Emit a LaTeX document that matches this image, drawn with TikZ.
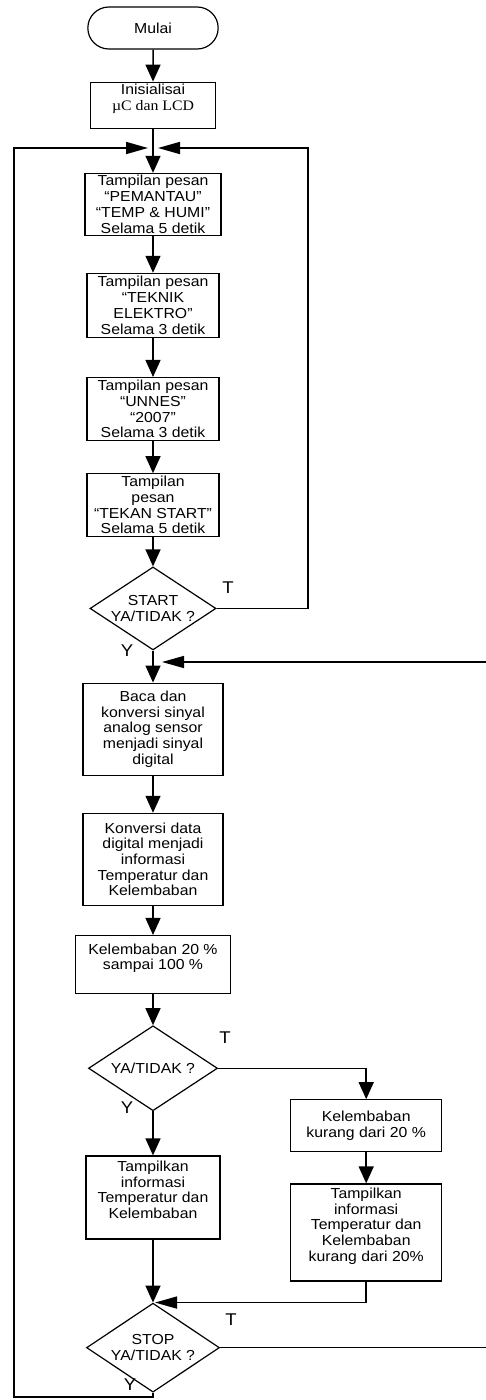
\documentclass[tikz,border=0pt]{standalone}
\usepackage{fontspec}
\setmainfont{Liberation Sans}[FakeStretch=1.09]
\newfontfamily\serif{Liberation Serif}[FakeStretch=1.09]
\usetikzlibrary{shapes.geometric, shapes.misc, arrows.meta, positioning}

\begin{document}
\begin{tikzpicture}[x=1pt, y=-1pt,
        font=\fontsize{14.5}{15.7}\selectfont,
        term/.style={draw, line width=1.2pt, rounded rectangle, minimum width=137pt, minimum height=42pt},
        box/.style={draw, line width=1.2pt, align=center, inner sep=2pt, minimum width=132pt, minimum height=63pt},
        decision/.style={draw, line width=1.2pt, diamond, shape aspect=1.6, inner sep=0pt, align=center},
        lbl/.style={inner sep=0pt, font=\fontsize{17}{18}\selectfont},
        flow/.style={-{Triangle[length=17pt,width=15pt]}, line width=1.5pt},
        loopflow/.style={-{Triangle[length=22pt,width=12pt]}, line width=1.5pt}]
    \useasboundingbox (0,0) rectangle (485,1400);
    \node[term] (mulai) at (153,28) {Mulai};
    \node[box, below=32pt of mulai, minimum width=125pt, minimum height=46pt] (init) {Inisialisai\\{\serif µC dan LCD}\\~};
    \node[box, below=44pt of init, minimum width=136pt, minimum height=61pt] (pemantau) {Tampilan pesan\\“PEMANTAU”\\“TEMP \& HUMI”\\Selama 5 detik};
    \node[box, below=37pt of pemantau, minimum height=64pt] (elektro) {Tampilan pesan\\“TEKNIK\\ELEKTRO”\\Selama 3 detik};
    \node[box, below=39pt of elektro] (unnes) {Tampilan pesan\\“UNNES”\\“2007”\\Selama 3 detik};
    \node[box, below=32pt of unnes] (tekan) {Tampilan\\pesan\\“TEKAN START”\\Selama 5 detik};
    \node[decision, below=29pt of tekan, minimum width=126pt, minimum height=83pt] (start) {START\\YA/TIDAK ?};
    \node[box, below=32pt of start, minimum width=140pt, minimum height=92pt] (baca) {Baca dan\\konversi sinyal\\analog sensor\\menjadi sinyal\\digital};
    \node[box, below=37pt of baca, minimum width=140pt, minimum height=92pt] (konversi) {Konversi data\\digital menjadi\\informasi\\Temperatur dan\\Kelembaban};
    \node[box, below=29pt of konversi, minimum width=155pt, minimum height=58pt] (rentang) {Kelembaban 20 \%\\sampai 100 \%\\~};
    \node[decision, below=31pt of rentang, minimum width=129pt, minimum height=85pt] (cek) {YA/TIDAK ?};
    \node[box, below=44pt of cek, minimum width=134pt, minimum height=83pt] (tampil) {Tampilkan\\informasi\\Temperatur dan\\Kelembaban\\~};
    \node[box, right=72pt of cek, yshift=-57.5pt, minimum width=151pt, minimum height=52pt] (kurang) {Kelembaban\\kurang dari 20 \%};
    \node[box, below=31pt of kurang, minimum width=151pt, minimum height=97pt] (tampilrendah) {Tampilkan\\informasi\\Temperatur dan\\Kelembaban\\kurang dari 20\%\\~};
    \node[decision, below=63pt of tampil, minimum width=133pt, minimum height=89pt] (stop) {STOP\\YA/TIDAK ?};
    % labels
    \node[lbl] (t1) at (228,588) {T};
    \node[lbl] (y1) at (127,651) {Y};
    \node[lbl] (t2) at (225,1038) {T};
    \node[lbl] (y2) at (127,1108) {Y};
    \node[lbl] (t3) at (231,1320) {T};
    \node[lbl] (y3) at (130,1385) {Y};
    % loop points
    \coordinate (atas) at (pemantau.north |- 0,148);
    \coordinate (kanan) at (308,148);
    \coordinate (kiri) at (14,1397);
    \coordinate (tengah) at (baca.north |- 0,662);
    \coordinate (luar) at (492,662);
    \foreach \a/\b in {mulai/init, init/pemantau, pemantau/elektro, elektro/unnes, unnes/tekan, tekan/start,
            start/baca, baca/konversi, konversi/rentang, rentang/cek, cek/tampil, tampil/stop, kurang/tampilrendah}
        \draw[flow] (\a) -- (\b);
    \draw[flow] (cek.east) -| (kurang.north);
    \draw[loopflow, shorten >=2pt] (tampilrendah.south) |- (stop.north);
    \draw[loopflow, shorten >=5pt] (start.east) -| (kanan) -- (atas);
    \draw[loopflow, shorten >=5pt] (stop.south) |- (kiri) |- (atas);
    \draw[loopflow, shorten >=9pt] (stop.east) -| (luar) -- (tengah);
\end{tikzpicture}
\end{document}
